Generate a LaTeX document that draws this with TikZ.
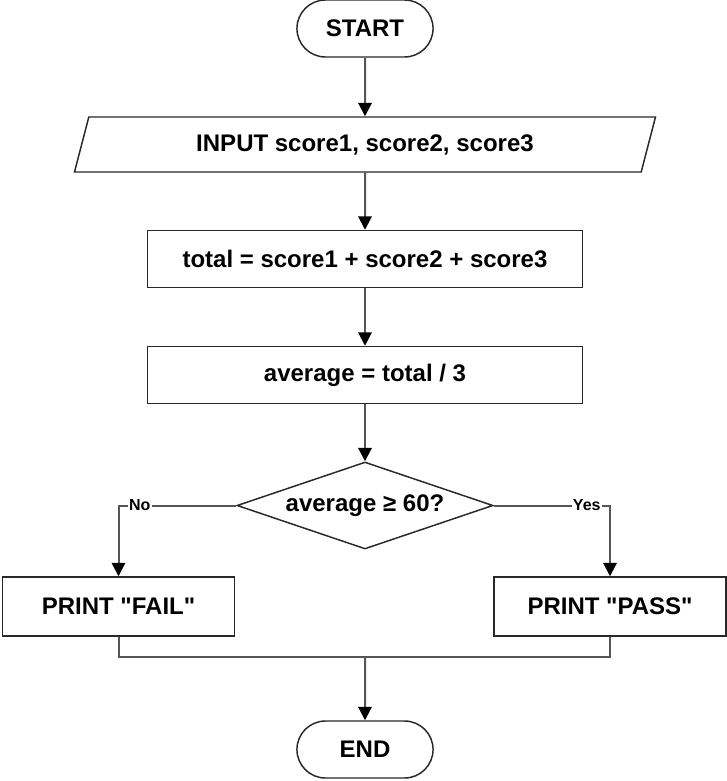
\documentclass[tikz,border=0pt]{standalone}
\usepackage{fontspec}
\setmainfont{Liberation Sans}
\usepackage{xcolor}
\definecolor{flowBorder}{RGB}{40,40,40}
\definecolor{flowLine}{RGB}{85,85,85}
\usepackage{tikz}
\usetikzlibrary{arrows.meta,shapes.geometric,shapes.misc,positioning,calc}
\tikzstyle{terminal}=[rounded rectangle, draw=flowBorder, line width=1.1pt, minimum width=108.75pt, minimum height=42.75pt, font=\bfseries\fontsize{18}{20}\selectfont]
\tikzstyle{iobox}=[trapezium, trapezium left angle=64, trapezium right angle=116, trapezium stretches body=true, draw=flowBorder, line width=1.1pt, minimum width=435.75pt, minimum height=41.25pt, font=\bfseries\fontsize{18}{20}\selectfont]
\tikzstyle{procbox}=[rectangle, draw=flowBorder, line width=1.1pt, minimum width=326.25pt, minimum height=42.75pt, font=\bfseries\fontsize{18}{20}\selectfont]
\tikzstyle{printbox}=[procbox, minimum width=174pt, minimum height=44.25pt]
\tikzstyle{decision}=[diamond, aspect=2.9, inner sep=0pt, draw=flowBorder, line width=1.1pt, minimum width=192pt, minimum height=65.25pt, font=\bfseries\fontsize{18}{20}\selectfont]
\tikzstyle{flowline}=[line width=1.5pt, color=flowLine]
\tikzstyle{flowarrow}=[flowline, -{Triangle[length=10pt, width=10pt, color=black]}]
\tikzstyle{branchlabel}=[fill=white, inner sep=1pt, text=black, font=\bfseries\fontsize{12}{14}\selectfont]

\begin{document}
\begin{tikzpicture}[x=0.75pt, y=-0.75pt]
        \useasboundingbox (0,0) rectangle (727,781);

        % Main column
        \node[terminal] (start) at (365, 28.5) {START};
        \node[iobox] (input) at (365, 144.5) {INPUT score1, score2, score3};
        \node[procbox] (total) at (365, 259) {total = score1 + score2 + score3};
        \node[procbox] (avg) at (365, 375) {average = total / 3};
        \node[decision] (check) at (365, 505.5) {average ≥ 60?};

        % Two outcomes
        \node[printbox] (fail) at (118.5, 606.5) {PRINT \textquotedbl FAIL\textquotedbl};
        \node[printbox] (pass) at (610, 606.5) {PRINT \textquotedbl PASS\textquotedbl};

        \coordinate (join) at (365, 657);
        \node[terminal] (stop) at (365, 749.5) {END};

        \draw[flowarrow] (start) -- (input);
        \draw[flowarrow] (input) -- (total);
        \draw[flowarrow] (total) -- (avg);
        \draw[flowarrow] (avg) -- (check);

        \draw[flowarrow] (check.west) -| (fail.north)
              node[branchlabel, pos=0.41] {No};
        \draw[flowarrow] (check.east) -| (pass.north)
              node[branchlabel, pos=0.40] {Yes};

        % Both branches meet before END
        \draw[flowline] (fail.south) |- (join);
        \draw[flowline] (pass.south) |- (join);
        \draw[flowarrow] (join) -- (stop);
      \end{tikzpicture}
\end{document}
